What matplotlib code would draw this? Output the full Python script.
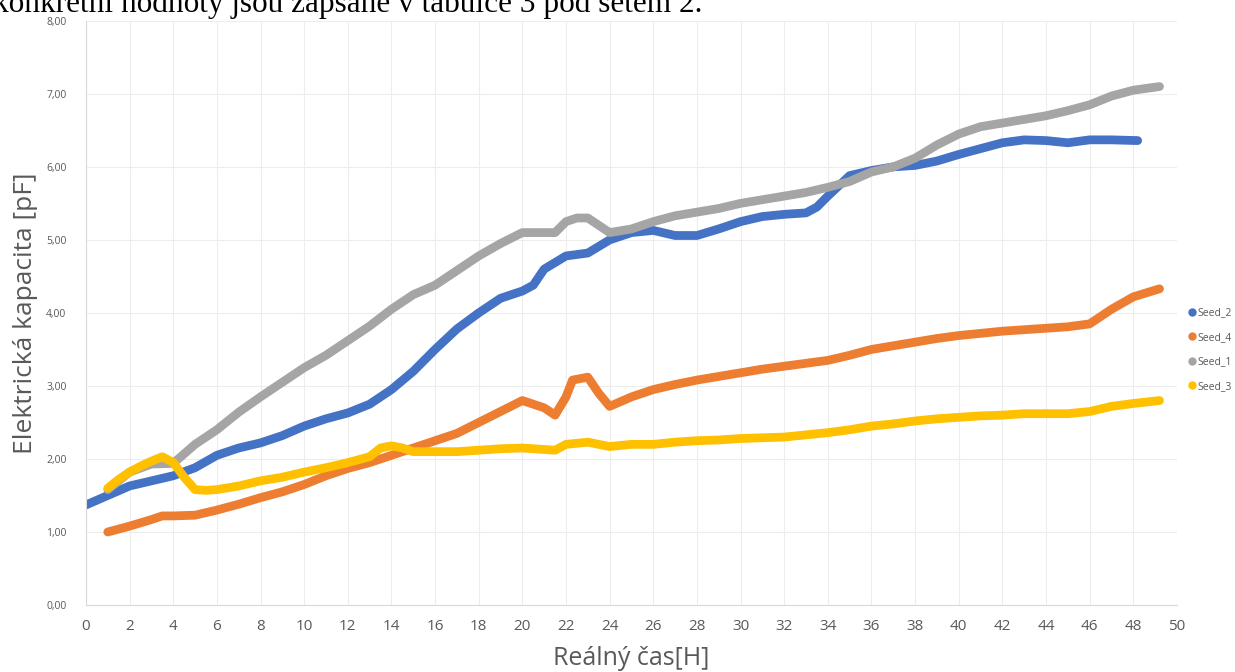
import matplotlib.pyplot as plt
from matplotlib.ticker import FuncFormatter, MultipleLocator

# Seed_2 (modra)
t2 = [0, 1, 2, 3, 4, 5, 6, 7, 8, 9, 10, 11, 12, 13, 14, 15, 16, 17, 18, 19,
      20, 20.5, 21, 22, 23, 24, 25, 26, 27, 28, 29, 30, 31, 32, 33, 33.5, 34,
      35, 36, 37, 38, 39, 40, 41, 42, 43, 44, 45, 46, 47, 48.2]
c2 = [1.37, 1.50, 1.63, 1.70, 1.77, 1.88, 2.05, 2.15, 2.22, 2.32, 2.45, 2.55,
      2.63, 2.75, 2.95, 3.20, 3.50, 3.78, 4.00, 4.20, 4.30, 4.38, 4.60, 4.78,
      4.82, 5.00, 5.10, 5.13, 5.06, 5.06, 5.15, 5.25, 5.32, 5.35, 5.37, 5.45,
      5.60, 5.88, 5.95, 6.00, 6.02, 6.08, 6.17, 6.25, 6.33, 6.37, 6.36, 6.33,
      6.37, 6.37, 6.36]

# Seed_4 (oranzova)
t4 = [1, 2, 3, 3.5, 4, 5, 6, 7, 8, 9, 10, 11, 12, 13, 14, 15, 16, 17, 18, 19,
      20, 21, 21.5, 22, 22.3, 23, 23.5, 24, 25, 26, 27, 28, 29, 30, 31, 32, 33,
      34, 35, 36, 37, 38, 39, 40, 41, 42, 43, 44, 45, 46, 47, 48, 49.2]
c4 = [1.00, 1.08, 1.17, 1.22, 1.22, 1.23, 1.30, 1.38, 1.47, 1.55, 1.65, 1.77,
      1.87, 1.95, 2.05, 2.15, 2.25, 2.35, 2.50, 2.65, 2.80, 2.70, 2.60, 2.85,
      3.08, 3.12, 2.90, 2.72, 2.85, 2.95, 3.02, 3.08, 3.13, 3.18, 3.23, 3.27,
      3.31, 3.35, 3.42, 3.50, 3.55, 3.60, 3.65, 3.69, 3.72, 3.75, 3.77, 3.79,
      3.81, 3.85, 4.05, 4.22, 4.33]

# Seed_1 (seda)
t1 = [1, 2, 3, 4, 5, 6, 7, 8, 9, 10, 11, 12, 13, 14, 15, 16, 17, 18, 19, 20,
      20.5, 21.5, 22, 22.5, 23, 24, 25, 26, 27, 28, 29, 30, 31, 32, 33, 34, 35,
      36, 37, 38, 39, 40, 41, 42, 43, 44, 45, 46, 47, 48, 49.2]
c1 = [1.58, 1.82, 1.93, 1.94, 2.20, 2.40, 2.64, 2.85, 3.05, 3.25, 3.42, 3.62,
      3.82, 4.05, 4.25, 4.38, 4.58, 4.78, 4.95, 5.10, 5.10, 5.10, 5.25, 5.30,
      5.30, 5.10, 5.15, 5.25, 5.33, 5.38, 5.43, 5.50, 5.55, 5.60, 5.65, 5.72,
      5.80, 5.93, 6.00, 6.12, 6.30, 6.45, 6.55, 6.60, 6.65, 6.70, 6.77, 6.85,
      6.97, 7.05, 7.10]

# Seed_3 (zluta)
t3 = [1, 1.5, 2, 2.5, 3, 3.5, 4, 4.5, 5, 5.5, 6, 7, 8, 9, 10, 11, 12, 13,
      13.5, 14, 14.5, 15, 16, 17, 18, 19, 20, 21, 21.5, 22, 23, 24, 25, 26, 27,
      28, 29, 30, 31, 32, 33, 34, 35, 36, 37, 38, 39, 40, 41, 42, 43, 44, 45,
      46, 47, 48, 49.2]
c3 = [1.60, 1.72, 1.82, 1.90, 1.97, 2.03, 1.95, 1.75, 1.58, 1.57, 1.58, 1.63,
      1.70, 1.75, 1.82, 1.88, 1.95, 2.03, 2.15, 2.18, 2.15, 2.10, 2.10, 2.10,
      2.12, 2.14, 2.15, 2.13, 2.12, 2.20, 2.23, 2.17, 2.20, 2.20, 2.23, 2.25,
      2.26, 2.28, 2.29, 2.30, 2.33, 2.36, 2.40, 2.45, 2.48, 2.52, 2.55, 2.57,
      2.59, 2.60, 2.62, 2.62, 2.62, 2.65, 2.72, 2.76, 2.80]

series = [
    ('Seed_2', t2, c2, '#4472C4'),
    ('Seed_4', t4, c4, '#ED7D31'),
    ('Seed_1', t1, c1, '#A5A5A5'),
    ('Seed_3', t3, c3, '#FFC000'),
]

plt.rcParams['font.family'] = ['Open Sans', 'DejaVu Sans']

fig = plt.figure(figsize=(12.35, 6.72), dpi=100)
ax = fig.add_axes([0.0696, 0.0997, 0.8834, 0.8693])

for name, t, c, col in series:
    ax.plot(t, c, color=col, lw=6.3, solid_capstyle='round',
            solid_joinstyle='round', label=name)

ax.set_xlim(0, 50)
ax.set_ylim(0, 8)
ax.xaxis.set_major_locator(MultipleLocator(2))
ax.yaxis.set_major_locator(MultipleLocator(1))
ax.yaxis.set_major_formatter(FuncFormatter(lambda v, p: f'{v:.2f}'.replace('.', ',')))
ax.grid(color='#EDEDED', lw=0.8)
ax.set_axisbelow(True)
for s in ['top', 'right']:
    ax.spines[s].set_visible(False)
for s in ['left', 'bottom']:
    ax.spines[s].set_color('#D9D9D9')
ax.tick_params(axis='both', length=0, colors='#595959')
ax.tick_params(axis='y', labelsize=7.5, pad=14)
ax.tick_params(axis='x', labelsize=11, pad=10)

ax.set_ylabel('Elektrická kapacita [pF]', fontsize=19, color='#595959', labelpad=6)
ax.set_xlabel('Reálný čas[H]', fontsize=18, color='#595959', labelpad=9)

handles = [plt.Line2D([], [], ls='none', marker='o', markersize=5, color=col)
           for _, _, _, col in series]
ax.legend(handles, [s[0] for s in series], loc='center left',
          bbox_to_anchor=(1.0, 0.437), frameon=False, fontsize=7.5,
          handletextpad=0.1, labelspacing=1.3, handlelength=1.0,
          labelcolor='#595959')

fig.text(-0.006, 1 - 12 / 672, 'konkrétní hodnoty jsou zapsané v tabulce 3 pod setem 2.',
         family='Liberation Serif', fontsize=22.5, va='baseline', ha='left')

fig.savefig('out.png', dpi=100)
